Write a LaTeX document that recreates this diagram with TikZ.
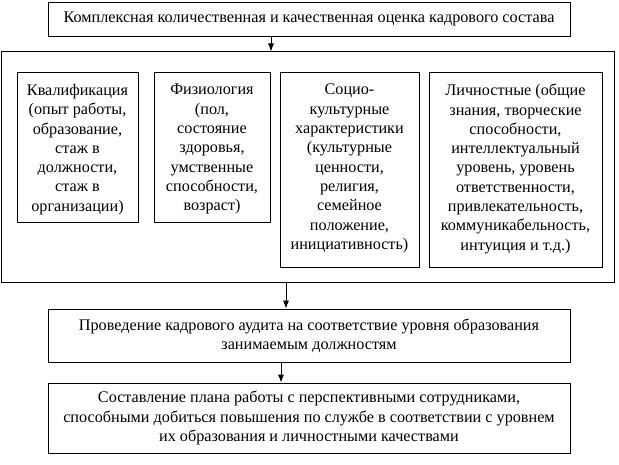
\documentclass[tikz,border=0pt]{standalone}
\usepackage{fontspec}
\setmainfont{Liberation Serif}
\usetikzlibrary{shapes, arrows, arrows.meta}
\tikzstyle{block} = [rectangle, draw, line width=0.8pt, align=center, inner sep=0pt]
\tikzstyle{frame} = [rectangle, draw, line width=1pt, inner sep=0pt]
\tikzstyle{factor} = [rectangle, draw, line width=0.8pt, anchor=north, inner sep=0pt]
\tikzstyle{factortext} = [anchor=north, align=center, inner sep=0pt, yshift=-12pt]
\tikzstyle{line} = [draw, line width=0.8pt, -{Latex[length=8pt, width=6pt]}]

\begin{document}
\begin{tikzpicture}[x=1pt, y=-1pt, font=\fontsize{16.2}{19.3}\selectfont]
        \useasboundingbox (0,0) rectangle (619,465);
        % Place nodes
        \node [block, minimum width=522pt, minimum height=34pt] (assess) at (309,19)
            {Комплексная количественная и качественная оценка кадрового состава};
        \node [frame, minimum width=613pt, minimum height=231pt] (frame) at (307.5,167.5) {};
        \node [factor, minimum width=121pt, minimum height=150pt] (qual) at (77.5,72) {};
        \node [factor, minimum width=116pt, minimum height=150pt] (phys) at (212,72) {};
        \node [factor, minimum width=139pt, minimum height=195pt] (soc) at (349.5,72) {};
        \node [factor, minimum width=173pt, minimum height=195pt] (pers) at (515.5,72) {};
        \node [factortext] (qualtext) at (qual.north) {Квалификация\\(опыт работы,\\образование,\\стаж в\\должности,\\стаж в\\организации)};
        \node [factortext] (phystext) at (phys.north) {Физиология\\(пол,\\состояние\\здоровья,\\умственные\\способности,\\возраст)};
        \node [factortext] (soctext) at (soc.north) {Социо-\\культурные\\характеристики\\(культурные\\ценности,\\религия,\\семейное\\положение,\\инициативность)};
        \node [factortext] (perstext) at (pers.north) {Личностные (общие\\знания, творческие\\способности,\\интеллектуальный\\уровень, уровень\\ответственности,\\привлекательность,\\коммуникабельность,\\интуиция и т.д.)};
        \node [block, minimum width=522pt, minimum height=53pt] (audit) at (309,335.5)
            {Проведение кадрового аудита на соответствие уровня образования\\занимаемым должностям};
        \node [block, minimum width=522pt, minimum height=70pt] (plan) at (309,418)
            {Составление плана работы с перспективными сотрудниками,\\способными добиться повышения по службе в соответствии с уровнем\\их образования и личностными качествами};
        % Draw edges
        \path [line] ([xshift=-38pt]assess.south) -- ([xshift=-38pt]assess.south |- frame.north);
        \path [line] ([xshift=-23pt]audit.north |- frame.south) -- ([xshift=-23pt]audit.north);
        \path [line] ([xshift=-28pt]audit.south) -- ([xshift=-28pt]plan.north);
\end{tikzpicture}
\end{document}
